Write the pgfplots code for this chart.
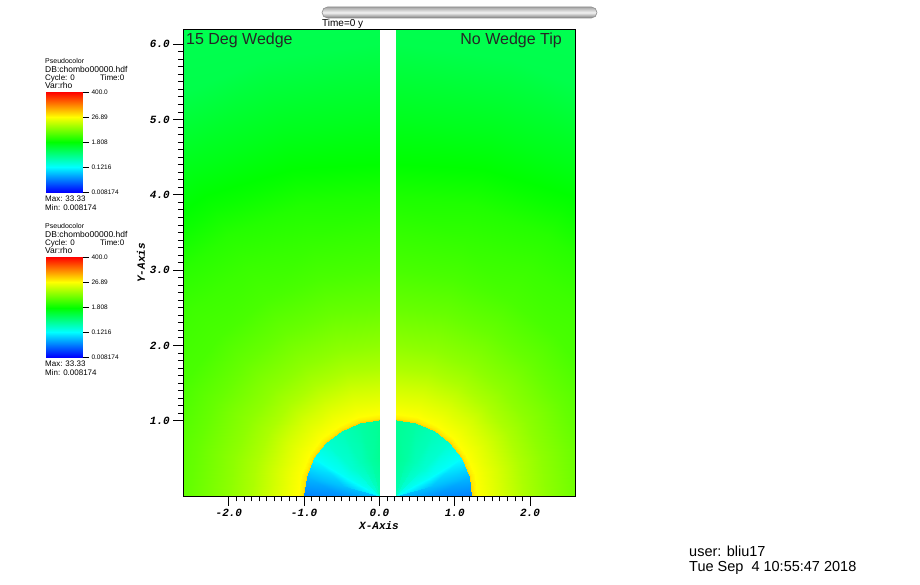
\documentclass[border=0pt]{standalone}
\usepackage{fontspec}
\setmainfont{Liberation Sans}
\usepackage{pgfplots}
\usepackage{pgfplotstable}
\pgfplotsset{compat=1.18}
\newfontfamily\axf{Liberation Mono}[BoldFont={* Bold},ItalicFont={* Italic}]
\newcommand\fs[1]{\fontsize{#1}{#1}\selectfont}
\pgfplotsset{colormap={hot}{rgb255=(0,0,255) rgb255=(0,255,255) rgb255=(0,255,0) rgb255=(255,255,0) rgb255=(255,0,0)}}
% columns: angle (deg), radius, log10(rho)
\pgfplotstableread{
a r c
90 0 -0.50
105 0 -0.57
120 0 -0.65
135 0 -0.74
150 0 -0.86
165 0 -0.92
180 0 -1.20
90 0.5 -0.42
105 0.5 -0.49
120 0.5 -0.59
135 0.5 -0.70
150 0.5 -0.87
165 0.5 -1.20
180 0.5 -1.43
90 1.01 -0.42
105 1.0 -0.49
120 1.0 -0.59
135 1.0 -0.70
150 1.0 -0.90
165 1.0 -1.24
180 1.0 -1.50
}\inner
\pgfplotstableread{
a r c
90 1.01 1.665
105 1.0 1.665
120 1.0 1.665
135 1.0 1.665
150 1.0 1.665
165 1.0 1.665
180 1.0 1.665
90 1.04 1.52
105 1.03 1.52
120 1.03 1.52
135 1.03 1.52
150 1.03 1.52
165 1.03 1.52
180 1.03 1.52
90 1.09 1.43
105 1.08 1.43
120 1.08 1.43
135 1.08 1.43
150 1.08 1.43
165 1.08 1.43
180 1.08 1.43
90 1.2 1.36
105 1.2 1.36
120 1.2 1.36
135 1.2 1.36
150 1.2 1.36
165 1.2 1.36
180 1.2 1.36
90 1.4 1.24
105 1.4 1.24
120 1.4 1.24
135 1.4 1.24
150 1.4 1.24
165 1.4 1.24
180 1.4 1.24
90 1.7 1.05
105 1.7 1.05
120 1.7 1.05
135 1.7 1.05
150 1.7 1.05
165 1.7 1.05
180 1.7 1.05
90 2 0.91
105 2 0.91
120 2 0.91
135 2 0.91
150 2 0.91
165 2 0.91
180 2 0.91
90 2.5 0.73
105 2.5 0.73
120 2.5 0.73
135 2.5 0.73
150 2.5 0.73
165 2.5 0.73
180 2.5 0.73
90 3 0.59
105 3 0.59
120 3 0.59
135 3 0.59
150 3 0.59
165 3 0.59
180 3 0.59
90 3.5 0.49
105 3.5 0.49
120 3.5 0.52
135 3.5 0.54
150 3.5 0.52
165 3.5 0.49
180 3.5 0.49
90 4 0.38
105 4 0.40
120 4 0.43
135 4 0.45
150 4 0.43
165 4 0.40
180 4 0.40
90 4.4 0.26
105 4.4 0.28
120 4.4 0.31
135 4.4 0.33
150 4.4 0.31
165 4.4 0.28
180 4.4 0.26
90 5 0.12
105 5 0.13
120 5 0.16
135 5 0.18
150 5 0.16
165 5 0.13
180 5 0.12
90 6 -0.09
105 6 -0.09
120 6 -0.08
135 6 -0.07
150 6 -0.08
165 6 -0.09
180 6 -0.09
90 8 -0.17
105 8 -0.17
120 8 -0.17
135 8 -0.17
150 8 -0.17
165 8 -0.17
180 8 -0.17
}\outer
\pgfplotstableread{
x y c
0 -2.0876 -2.0876
1 -2.0876 -2.0876
0 -0.915 -0.915
1 -0.915 -0.915
0 0.257 0.257
1 0.257 0.257
0 1.43 1.43
1 1.43 1.43
0 2.602 2.602
1 2.602 2.602
}\bar
\newcommand\legendblock[1]{%
\begin{scope}[shift={(0,#1pt)}]
\begin{axis}[at={(46pt,0pt)},anchor=south west,scale only axis,width=36pt,height=100pt,
  xmin=0,xmax=1,ymin=-2.0876,ymax=2.602,axis line style={draw=none},xtick=\empty,
  ytick={-2.0876,-0.915,0.257,1.43,2.602},yticklabels={0.008174,0.1216,1.808,26.89,400.0},
  ytick pos=right,tick align=outside,major tick length=7pt,tick style={black,line width=.7pt},
  yticklabel style={font=\fs{6.5},xshift=-1pt},point meta min=-2.0876,point meta max=2.602,colormap name=hot]
\addplot[surf,shader=interp,mesh/cols=2,point meta=\thisrow{c}] table[x=x,y=y] {\bar};
\end{axis}
\node[anchor=west,inner sep=0pt,font=\fs{7}] at (45pt,131.5pt) {Pseudocolor};
\node[anchor=west,inner sep=0pt,font=\fs{8.5}] at (45pt,123.5pt) {DB:chombo00000.hdf};
\node[anchor=west,inner sep=0pt,font=\fs{8}] at (45pt,114.5pt) {Cycle: 0};
\node[anchor=west,inner sep=0pt,font=\fs{8}] at (100pt,114.5pt) {Time:0};
\node[anchor=west,inner sep=0pt,font=\fs{8.5}] at (45pt,107.5pt) {Var:rho};
\node[anchor=west,inner sep=0pt,font=\fs{8}] at (45pt,-6.5pt) {Max: 33.33};
\node[anchor=west,inner sep=0pt,font=\fs{8}] at (45pt,-15pt) {Min: 0.008174};
\end{scope}}
\begin{document}
\begin{tikzpicture}[x=1pt,y=1pt]
\fill[white] (0,0) rectangle (920pt,585pt);
\useasboundingbox (0,0) rectangle (920pt,585pt);
% top bar
\shade[top color=black!35,bottom color=black!50,middle color=black!5,rounded corners=5.5pt,draw=black!45,line width=.6pt] (322pt,567pt) rectangle (597pt,578pt);
\node[anchor=west,inner sep=0pt,font=\fs{10}] at (322pt,561.5pt) {Time=0 y};
\legendblock{392.5}
\legendblock{227.5}
% right half
\begin{axis}[at={(183.3pt,89pt)},anchor=south west,scale only axis,width=392.6pt,height=466.5pt,hide axis,
  xmin=-2.825,xmax=2.39,ymin=0,ymax=6.195,point meta min=-2.0876,point meta max=2.602,colormap name=hot]
\addplot[surf,shader=interp,data cs=polar,mesh/cols=7,point meta=\thisrow{c}] table[x expr=180-\thisrow{a},y=r] {\outer};
\addplot[surf,shader=interp,data cs=polar,mesh/cols=7,point meta=\thisrow{c}] table[x expr=180-\thisrow{a},y=r] {\inner};
\end{axis}
% left half with the axes
\begin{axis}[at={(183.3pt,89pt)},anchor=south west,scale only axis,width=392.6pt,height=466.5pt,
  xmin=-2.605,xmax=2.61,ymin=0,ymax=6.195,point meta min=-2.0876,point meta max=2.602,colormap name=hot,
  xtick={-2,-1,0,1,2},xticklabels={-2.0,-1.0,0.0,1.0,2.0},
  ytick={1,2,3,4,5,6},yticklabels={1.0,2.0,3.0,4.0,5.0,6.0},
  minor tick num=9,xtick pos=bottom,ytick pos=left,tick align=outside,
  major tick length=10pt,minor tick length=5.5pt,tick style={black,line width=.8pt},
  axis line style={black,line width=.9pt},axis on top,
  ticklabel style={font=\axf\bfseries\itshape\fs{11}}]
\addplot[surf,shader=interp,data cs=polar,mesh/cols=7,point meta=\thisrow{c}] table[x=a,y=r] {\outer};
\addplot[surf,shader=interp,data cs=polar,mesh/cols=7,point meta=\thisrow{c}] table[x=a,y=r] {\inner};
\end{axis}
\node[inner sep=0pt,font=\axf\bfseries\itshape\fs{11}] at (379pt,59pt) {X-Axis};
\node[inner sep=0pt,rotate=90,font=\axf\bfseries\itshape\fs{11}] at (141pt,322pt) {Y-Axis};
\node[anchor=base west,inner sep=0pt,text=black!85,font=\fs{16}] at (186pt,540.5pt) {15 Deg Wedge};
\node[anchor=base east,inner sep=0pt,text=black!85,font=\fs{16}] at (562pt,540.5pt) {No Wedge Tip};
\node[anchor=base west,inner sep=0pt,font=\fs{14.5}] at (689pt,28pt) {user: bliu17};
\node[anchor=base west,inner sep=0pt,font=\fs{14.5}] at (689pt,13pt) {Tue Sep\ \ 4 10:55:47 2018};
\end{tikzpicture}
\end{document}
